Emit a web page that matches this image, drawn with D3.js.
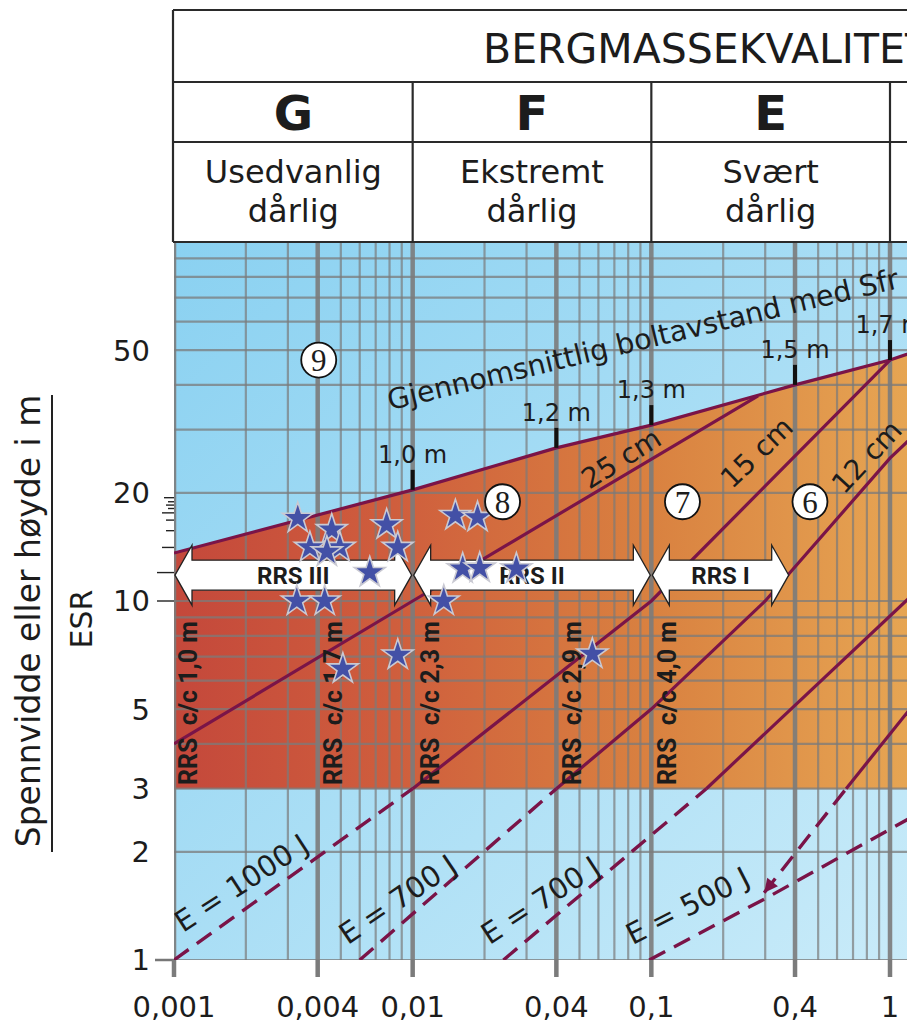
<!DOCTYPE html>
<html>
<head>
<meta charset="utf-8">
<script src="https://cdn.jsdelivr.net/npm/d3@7"></script>
<style>
  body { margin: 0; background: #fff; }
  svg { display: block; }
  text { font-family: "DejaVu Sans", sans-serif; fill: #1c1c1c; }
</style>
</head>
<body>
<div id="chart"></div>
<script>
// axes
var qTicks = [0.001, 0.004, 0.01, 0.04, 0.1, 0.4, 1];
var qTickLabels = ["0,001", "0,004", "0,01", "0,04", "0,1", "0,4", "1"];
var spanTicks = [1, 2, 3, 5, 10, 20, 50];
var spanGrid = [1, 2, 3, 4, 5, 6, 7, 8, 9, 10, 20, 30, 40, 50, 60, 70, 80, 90];
var rulerTicks = [10, 12, 14.1, 15.7, 16.8, 17.6, 18.1, 18.5, 18.9, 19.4];

// rock mass classes
var classBounds = [0.001, 0.01, 0.1, 1];
var classLetters = ["G", "F", "E"];
var classNames = [["Usedvanlig", "dårlig"], ["Ekstremt", "dårlig"], ["Svært", "dårlig"]];

// bolt spacing line (upper edge of the support area)
var boltLine = [[0.001, 13.6], [0.01, 20.4], [0.04, 26.7], [0.1, 30.9], [0.4, 40], [1, 46.9], [1.3, 49.8]];
var boltQ = [0.01, 0.04, 0.1, 0.4, 1];
var boltLabels = ["1,0 m", "1,2 m", "1,3 m", "1,5 m", "1,7 m"];

// shotcrete / RRS lines (solid) and energy lines (dashed)
var line25 = [[0.001, 4], [0.01, 10], [0.28, 37.3]];
var line15 = [[0.01, 3], [0.1, 10], [1, 46.9]];
var line12 = [[0.04, 3], [0.1, 5], [0.3, 10], [1, 25], [1.3, 29.5]];
var lineD = [[0.17, 3], [1.3, 10.7]];
var lineE = [[0.655, 3], [1.3, 5.3]];
var e1000 = [[0.001, 1], [0.01, 3]];
var e700a = [[0.006, 1], [0.04, 3]];
var e700b = [[0.024, 1], [0.17, 3]];
var e500 = [[0.098, 1], [0.31, 1.5], [1.3, 2.55]];
var e500arrow = [[0.297, 1.54], [0.655, 3]];

var lineLabels = ["25 cm", "15 cm", "12 cm"];
var lineLabelQ = [0.055, 0.218, 0.642];
var lineLabelS = [20.4, 20.4, 19.7];
var lineLabelAngle = [-32, -44, -47];

var energyLabels = ["E = 1000 J", "E = 700 J", "E = 700 J", "E = 500 J"];
var energyLabelQ = [0.00109, 0.00534, 0.021, 0.0833];
var energyLabelS = [1.19, 1.1, 1.1, 1.1];
var energyLabelAngle = [-33, -34, -33, -27];

// RRS arches
var rrsRanges = [[0.001, 0.01], [0.01, 0.1], [0.1, 0.38]];
var rrsLabels = ["RRS III", "RRS II", "RRS I"];
var rrsSpan = 11.8;
var rrsCcLabels = ["RRS  c/c 1,0 m", "RRS  c/c 1,7 m", "RRS  c/c 2,3 m", "RRS  c/c 2,9 m", "RRS  c/c 4,0 m"];
var rrsCcQ = [0.00114, 0.00463, 0.0118, 0.0467, 0.1167];
var rrsCcS = 3.07;

// support classes
var zoneLabels = ["9", "8", "7", "6"];
var zoneQ = [0.00404, 0.0238, 0.135, 0.462];
var zoneS = [46.9, 18.9, 18.9, 18.9];

// registered cases
var starQ = [0.0033, 0.00458, 0.00778, 0.00371, 0.00495, 0.00437, 0.00866, 0.00661, 0.00327, 0.00428,
             0.0051, 0.00866, 0.0151, 0.0187, 0.0162, 0.0191, 0.0272, 0.0135, 0.0566];
var starS = [17.0, 15.8, 16.3, 14.1, 14.1, 13.7, 14.1, 12.0, 10.0, 10.0,
             6.47, 7.07, 17.3, 17.1, 12.3, 12.35, 12.3, 10.0, 7.12];

var width = 907, height = 1022;
var purple = "#7a1448";

var svg = d3.select("#chart").append("svg")
    .attr("width", width)
    .attr("height", height);

var x = d3.scaleLog().domain([0.001, 1]).range([174, 890]);
var y = d3.scaleLog().domain([1, 100]).range([960, 242]);
var qEnd = 1.3;
var plotLeft = x(0.001), plotTop = y(100), plotBottom = y(1);

var defs = svg.append("defs");
var bg = defs.append("linearGradient").attr("id", "blueBg")
    .attr("x1", 0).attr("y1", 0).attr("x2", 1).attr("y2", 1);
bg.append("stop").attr("offset", 0).attr("stop-color", "#8ad1f1");
bg.append("stop").attr("offset", 1).attr("stop-color", "#c9ebf9");
var og = defs.append("linearGradient").attr("id", "orangeBg")
    .attr("gradientUnits", "userSpaceOnUse")
    .attr("x1", 174).attr("y1", 0).attr("x2", 907).attr("y2", 0);
[[0, "#c4483b"], [0.3, "#cf5e3d"], [0.65, "#d98140"], [1, "#e6a553"]].forEach(function(s) {
    og.append("stop").attr("offset", s[0]).attr("stop-color", s[1]);
});
defs.append("clipPath").attr("id", "plotClip").append("rect")
    .attr("x", plotLeft).attr("y", plotTop)
    .attr("width", width - plotLeft + 10).attr("height", plotBottom - plotTop);
var marker = defs.append("marker").attr("id", "arrowHead")
    .attr("viewBox", "0 0 10 10").attr("refX", 10).attr("refY", 5)
    .attr("markerWidth", 5).attr("markerHeight", 4)
    .attr("orient", "auto-start-reverse");
marker.append("path").attr("d", "M0,0 L10,5 L0,10 z").attr("fill", purple);

function onLine(line, q) {
    for (var i = 0; i < line.length - 1; i++) {
        if (q >= line[i][0] && q <= line[i + 1][0]) {
            var t = Math.log(q / line[i][0]) / Math.log(line[i + 1][0] / line[i][0]);
            return Math.pow(10, Math.log10(line[i][1]) + t * Math.log10(line[i + 1][1] / line[i][1]));
        }
    }
    return line[line.length - 1][1];
}

var path = d3.line()
    .x(function(d) { return x(d[0]); })
    .y(function(d) { return y(d[1]); });

// plot area
var plot = svg.append("g").attr("clip-path", "url(#plotClip)");
plot.append("rect")
    .attr("x", plotLeft).attr("y", plotTop)
    .attr("width", width - plotLeft + 10).attr("height", plotBottom - plotTop)
    .attr("fill", "url(#blueBg)");

var area = boltLine.concat([[qEnd, 3], [0.001, 3]]);
plot.append("path")
    .attr("d", path(area) + "Z")
    .attr("fill", "url(#orangeBg)");

// grid
var gridQ = [];
[0.001, 0.01, 0.1, 1].forEach(function(d) {
    for (var k = 1; k <= 9; k++) if (k * d <= qEnd) gridQ.push(k * d);
});
function isMajor(d) {
    return qTicks.some(function(t) { return Math.abs(t / d - 1) < 1e-6; });
}
plot.selectAll(".hgrid").data(spanGrid).enter().append("line")
    .attr("x1", plotLeft).attr("x2", width + 5)
    .attr("y1", function(d) { return y(d); }).attr("y2", function(d) { return y(d); })
    .attr("stroke", "#7b7b7b").attr("stroke-opacity", 0.75).attr("stroke-width", 2.2);
plot.selectAll(".vgrid").data(gridQ).enter().append("line")
    .attr("x1", function(d) { return x(d); }).attr("x2", function(d) { return x(d); })
    .attr("y1", plotTop).attr("y2", plotBottom)
    .attr("stroke", "#7b7b7b")
    .attr("stroke-opacity", function(d) { return isMajor(d) ? 0.9 : 0.7; })
    .attr("stroke-width", function(d) { return isMajor(d) ? 4.5 : 2.2; });

// support lines
[line25, line15, line12, lineD, lineE, boltLine].forEach(function(l) {
    plot.append("path").attr("d", path(l))
        .attr("fill", "none").attr("stroke", purple).attr("stroke-width", 3.2);
});
[e1000, e700a, e700b, e500].forEach(function(l) {
    plot.append("path").attr("d", path(l))
        .attr("fill", "none").attr("stroke", purple).attr("stroke-width", 3.4)
        .attr("stroke-dasharray", "18,10");
});
plot.append("path").attr("d", path(e500arrow))
    .attr("fill", "none").attr("stroke", purple).attr("stroke-width", 3.4)
    .attr("stroke-dasharray", "18,10")
    .attr("marker-start", "url(#arrowHead)");

// bolt spacing ticks
boltQ.forEach(function(q, i) {
    var yb = y(onLine(boltLine, q));
    plot.append("line").attr("x1", x(q)).attr("x2", x(q))
        .attr("y1", yb).attr("y2", yb - 20)
        .attr("stroke", "#111").attr("stroke-width", 4);
    plot.append("text").attr("x", x(q)).attr("y", yb - 27)
        .attr("text-anchor", "middle").attr("font-size", 24)
        .text(boltLabels[i]);
});

plot.append("text")
    .attr("transform", "translate(" + x(0.00804) + "," + y(34) + ") rotate(-13.5)")
    .attr("font-size", 28.5)
    .text("Gjennomsnittlig boltavstand med Sfr");

lineLabels.forEach(function(t, i) {
    plot.append("text")
        .attr("transform", "translate(" + x(lineLabelQ[i]) + "," + y(lineLabelS[i]) + ") rotate(" + lineLabelAngle[i] + ")")
        .attr("font-size", 28).text(t);
});
energyLabels.forEach(function(t, i) {
    plot.append("text")
        .attr("transform", "translate(" + x(energyLabelQ[i]) + "," + y(energyLabelS[i]) + ") rotate(" + energyLabelAngle[i] + ")")
        .attr("font-size", 29).text(t);
});

// RRS c/c labels
rrsCcLabels.forEach(function(t, i) {
    plot.append("text")
        .attr("transform", "translate(" + x(rrsCcQ[i]) + "," + y(rrsCcS) + ") rotate(-90)")
        .attr("dy", "0.36em")
        .style("white-space", "pre")
        .style("font-family", "Roboto, sans-serif")
        .attr("font-weight", "bold").attr("font-size", 25)
        .text(t);
});

// RRS arrows
var yc = y(rrsSpan), hb = 15, hh = 30, hl = 17;
rrsRanges.forEach(function(r, i) {
    var xl = x(r[0]) + 1, xr = x(r[1]) - 1;
    var p = "M" + xl + "," + yc +
        "L" + (xl + hl) + "," + (yc - hh) + "L" + (xl + hl) + "," + (yc - hb) +
        "L" + (xr - hl) + "," + (yc - hb) + "L" + (xr - hl) + "," + (yc - hh) +
        "L" + xr + "," + yc +
        "L" + (xr - hl) + "," + (yc + hh) + "L" + (xr - hl) + "," + (yc + hb) +
        "L" + (xl + hl) + "," + (yc + hb) + "L" + (xl + hl) + "," + (yc + hh) + "Z";
    plot.append("path").attr("d", p)
        .attr("fill", "#fff").attr("stroke", "#222").attr("stroke-width", 1.3);
    plot.append("text").attr("x", (xl + xr) / 2).attr("y", yc).attr("dy", "0.36em")
        .attr("text-anchor", "middle")
        .style("font-family", "Roboto, sans-serif")
        .attr("font-weight", "bold").attr("font-size", 24)
        .text(rrsLabels[i]);
});

// cases
var star = d3.symbol().type(d3.symbolStar).size(295);
plot.selectAll(".star").data(starQ).enter().append("path")
    .attr("d", star)
    .attr("transform", function(d, i) { return "translate(" + x(d) + "," + y(starS[i]) + ")"; })
    .attr("fill", "#4350a6").attr("stroke", "#c9c9d2").attr("stroke-width", 1.6);

// support class markers
zoneLabels.forEach(function(t, i) {
    plot.append("circle").attr("cx", x(zoneQ[i])).attr("cy", y(zoneS[i])).attr("r", 17.5)
        .attr("fill", "#fff").attr("stroke", "#111").attr("stroke-width", 1.8);
    plot.append("text").attr("x", x(zoneQ[i])).attr("y", y(zoneS[i])).attr("dy", "0.35em")
        .attr("text-anchor", "middle")
        .style("font-family", "Liberation Serif, serif")
        .attr("font-size", 31).text(t);
});

// x axis
svg.append("line").attr("x1", 155).attr("x2", plotLeft)
    .attr("y1", plotBottom).attr("y2", plotBottom)
    .attr("stroke", "#777").attr("stroke-width", 2.5);
svg.selectAll(".xtick").data(qTicks).enter().append("line")
    .attr("x1", function(d) { return x(d); }).attr("x2", function(d) { return x(d); })
    .attr("y1", plotBottom).attr("y2", plotBottom + 17)
    .attr("stroke", "#7b7b7b").attr("stroke-width", 4.5);
svg.selectAll(".xlab").data(qTicks).enter().append("text")
    .attr("x", function(d) { return x(d); }).attr("y", 1017)
    .attr("text-anchor", "middle").attr("font-size", 29)
    .text(function(d, i) { return qTickLabels[i]; });

// y axis
svg.selectAll(".ylab").data(spanTicks).enter().append("text")
    .attr("x", 150).attr("y", function(d) { return y(d); }).attr("dy", "0.36em")
    .attr("text-anchor", "end").attr("font-size", 29)
    .text(function(d) { return d; });
svg.selectAll(".ruler").data(rulerTicks).enter().append("line")
    .attr("x1", function(d, i) { return plotLeft - [17, 17, 12, 8, 8, 12, 6, 8, 6, 10][i]; })
    .attr("x2", plotLeft)
    .attr("y1", function(d) { return y(d); }).attr("y2", function(d) { return y(d); })
    .attr("stroke", "#222").attr("stroke-width", 1.4);

svg.append("text")
    .attr("transform", "translate(40,621) rotate(-90)")
    .attr("text-anchor", "middle").attr("font-size", 33)
    .text("Spennvidde eller høyde i m");
svg.append("line").attr("x1", 52).attr("x2", 52).attr("y1", 395).attr("y2", 852)
    .attr("stroke", "#222").attr("stroke-width", 2);
svg.append("text")
    .attr("transform", "translate(92,619) rotate(-90)")
    .attr("text-anchor", "middle").attr("font-size", 30)
    .text("ESR");

// header table
var head = svg.append("g").attr("stroke", "#2a2a2a").attr("stroke-width", 2.2);
head.append("line").attr("x1", 173).attr("x2", width + 5).attr("y1", 10).attr("y2", 10);
head.append("line").attr("x1", 173).attr("x2", width + 5).attr("y1", 82).attr("y2", 82);
head.append("line").attr("x1", 173).attr("x2", width + 5).attr("y1", 142).attr("y2", 142);
head.append("line").attr("x1", 173).attr("x2", width + 5).attr("y1", plotTop).attr("y2", plotTop);
head.append("line").attr("x1", 173).attr("x2", 173).attr("y1", 10).attr("y2", plotTop);
classBounds.slice(1).forEach(function(q) {
    head.append("line").attr("x1", x(q)).attr("x2", x(q)).attr("y1", 82).attr("y2", plotTop);
});

svg.append("text").attr("x", 483).attr("y", 63)
    .attr("font-size", 41).text("BERGMASSEKVALITET");
classLetters.forEach(function(c, i) {
    var cx = (x(classBounds[i]) + x(classBounds[i + 1])) / 2;
    svg.append("text").attr("x", cx).attr("y", 130)
        .attr("text-anchor", "middle").attr("font-size", 48).attr("font-weight", "bold")
        .text(c);
    svg.append("text").attr("x", cx).attr("y", 183)
        .attr("text-anchor", "middle").attr("font-size", 32)
        .text(classNames[i][0]);
    svg.append("text").attr("x", cx).attr("y", 222)
        .attr("text-anchor", "middle").attr("font-size", 32)
        .text(classNames[i][1]);
});
</script>
</body>
</html>
